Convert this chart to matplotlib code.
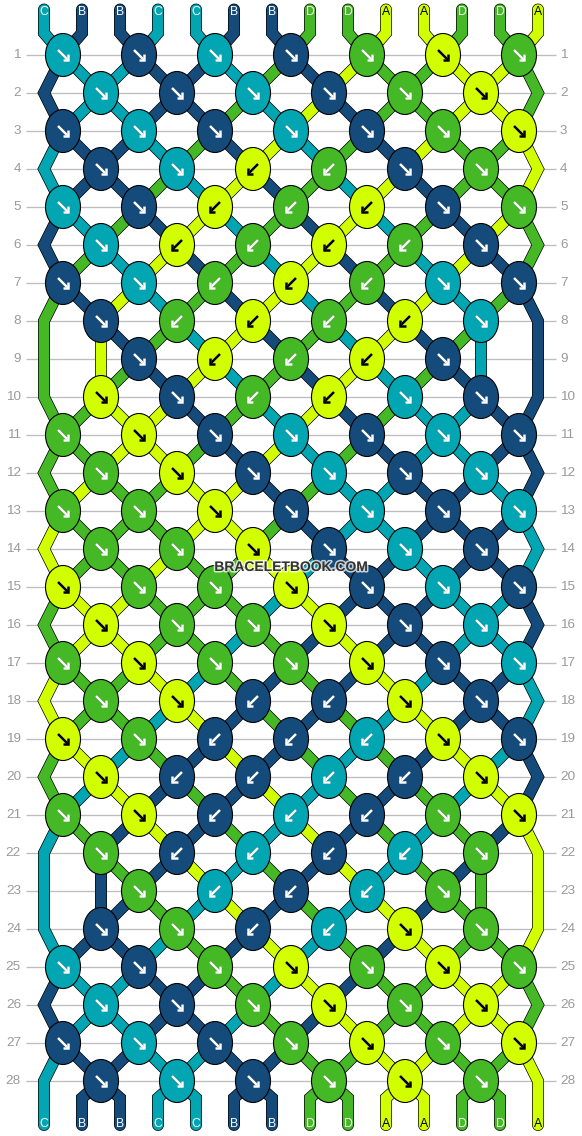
import matplotlib
matplotlib.use("Agg")
import matplotlib.pyplot as plt
from matplotlib.patches import Ellipse
import matplotlib.patheffects as pe

start_threads = list("CBBCCBBDDAADDA")

knot_colors = [
    "CBCBDAD", "CBCBDA", "BCBCBDA", "BCADBD", "CBADABD", "CADADB", "BCDADCB",
    "BDADAC", "BADAB", "ABDACB", "DABCBCB", "DABCBC", "DDABCBC", "DDABCB",
    "ADDABCB", "ADDABC", "DADDABC", "DABBAB", "ADBBCAB", "ABBCBA", "DABCBDA",
    "DBCBCD", "DCBCD", "BDBCAD", "CBDADAD", "CBDADA", "BCBDADA", "BCBDAD",
]
knot_dirs = [
    "RRRRRRR", "RRRRRR", "RRRRRRR", "RRLLRR", "RRLLLRR", "RLLLLR", "RRLLLRR",
    "RLLLLR", "RLLLR", "RRLLRR", "RRRRRRR", "RRRRRR", "RRRRRRR", "RRRRRR",
    "RRRRRRR", "RRRRRR", "RRRRRRR", "RRLLRR", "RRLLLRR", "RLLLLR", "RRLLLRR",
    "RLLLLR", "RLLLR", "RRLLRR", "RRRRRRR", "RRRRRR", "RRRRRRR", "RRRRRR",
]
row_numbers = list(range(1, 29))
palette = {"A": "#D2FF00", "B": "#154B7B", "C": "#02A5B2", "D": "#45B825"}
ink = {"A": "black", "B": "white", "C": "white", "D": "white"}

W, H = 582, 1136
PX = 38.0   # pixels per strand / per row


def xu(px):
    return (px - 44) / PX


def yu(py):
    return 1 + (py - 55) / PX


plt.rcParams["font.family"] = ["Liberation Sans", "DejaVu Sans"]
fig = plt.figure(figsize=(W / 100, H / 100), dpi=100, facecolor="white")
ax = fig.add_axes([0, 0, 1, 1])
ax.set_xlim(xu(0), xu(W))
ax.set_ylim(yu(H), yu(0))
ax.axis("off")

# row rules and labels
for r in row_numbers:
    ax.plot([xu(26), xu(556)], [r, r], color="#BDBDBD", lw=0.95, zorder=1,
            solid_capstyle="butt")
    ax.text(xu(21), r, str(r), ha="right", va="center", color="#9A9A9A", fontsize=9.7)
    ax.text(xu(560), r, str(r), ha="left", va="center", color="#9A9A9A", fontsize=9.7)

# walk the threads through the knots
n = len(start_threads)
order = list(range(n))
paths = [[(i, yu(9.5)), (i, yu(33))] for i in range(n)]
knots = []
mismatch = []
for r, colours, dirs in zip(row_numbers, knot_colors, knot_dirs):
    first = 0 if len(colours) == 7 else (1 if len(colours) == 6 else 2)
    used = set()
    for k, (c, d) in enumerate(zip(colours, dirs)):
        i = first + 2 * k
        x = i + 0.5
        a, b = order[i], order[i + 1]
        paths[a].append((x, r))
        paths[b].append((x, r))
        expect = start_threads[a] if d == "R" else start_threads[b]
        if expect != c:
            mismatch.append((r, k, c, expect))
        order[i], order[i + 1] = b, a
        used |= {i, i + 1}
        knots.append((x, r, c, d))
    for i in (0, n - 1):
        if i not in used:
            paths[order[i]].append((i, r))
if mismatch:
    raise SystemExit(str(mismatch))

# thread ends below the last row
for i in range(n):
    t = order[i]
    if i not in (0, n - 1):
        paths[t].append((i, yu(1098)))
    paths[t].append((i, yu(1125)))

for t, p in enumerate(paths):
    xs, ys = zip(*p)
    ax.plot(xs, ys, color="black", lw=8.6, zorder=2, solid_capstyle="round",
            solid_joinstyle="miter")
    ax.plot(xs, ys, color=palette[start_threads[t]], lw=7.6, zorder=3,
            solid_capstyle="round", solid_joinstyle="miter")

# end labels
for i, c in enumerate(start_threads):
    ax.text(i, yu(12.5), c, ha="center", va="center", color=ink[c], fontsize=8.8, zorder=4)
for i in range(n):
    c = start_threads[order[i]]
    ax.text(i, yu(1124), c, ha="center", va="center", color=ink[c], fontsize=8.8, zorder=4)

# knots with arrows
s = 5.0 / PX
arm = 5.5 / PX
for x, r, c, d in knots:
    ax.add_patch(Ellipse((x, r), 35 / PX, 43 / PX, facecolor=palette[c],
                         edgecolor="black", lw=0.8, zorder=5))
    sx = 1 if d == "R" else -1
    tipx, tipy = x + sx * s, r + s
    fg = ink[c]
    bg = "black" if fg == "white" else "white"
    fx = [pe.withStroke(linewidth=2.2, foreground=bg, alpha=0.3)]
    ax.plot([x - sx * s, tipx], [r - s, tipy], color=fg, lw=1.8, zorder=6,
            solid_capstyle="butt", path_effects=fx)
    ax.plot([tipx - sx * arm, tipx, tipx], [tipy, tipy, tipy - arm], color=fg, lw=1.8,
            zorder=6, solid_capstyle="butt", solid_joinstyle="miter", path_effects=fx)

ax.text(xu(291), yu(567), "BRACELETBOOK.COM", ha="center", va="center", fontsize=10,
        fontweight="bold", color="#333333", zorder=8,
        path_effects=[pe.withStroke(linewidth=2.2, foreground="white", alpha=0.75)])

fig.savefig("out.png", dpi=100, facecolor="white")
